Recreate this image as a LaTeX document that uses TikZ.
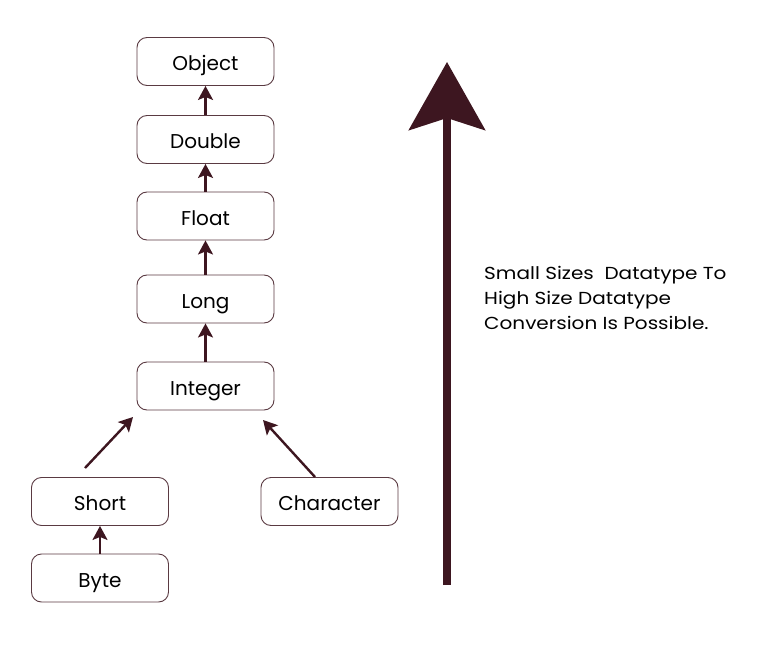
\documentclass[tikz,border=0pt]{standalone}
\usepackage{fontspec}
\setmainfont{Poppins}
\newfontfamily\notefont[FakeStretch=1.15]{Poppins}
\usetikzlibrary{arrows.meta}
\definecolor{maroon}{HTML}{3D1620}
\definecolor{boxline}{HTML}{5A3A42}
\begin{document}
\begin{tikzpicture}[x=1pt,y=-1pt,
  box/.style={draw=boxline, line width=0.9pt, rounded corners=10pt, minimum width=137pt, minimum height=48pt, inner sep=0pt, font=\fontsize{20}{22}\selectfont, text height=20pt, text depth=2pt, text=black},
  conn/.style={draw=maroon, line width=2.4pt, -{Stealth[length=14pt,width=15pt,inset=3pt]}},
  bigarrow/.style={draw=maroon, line width=8pt, -{Stealth[length=68pt,width=76pt,inset=12pt]}}]
\useasboundingbox (0,0) rectangle (768,650);
\node[box] (object) at (205.5,61.5) {Object};
\node[box] (double) at (205.5,139.5) {Double};
\node[box] (float) at (205.5,216) {Float};
\node[box] (long) at (205.5,299) {Long};
\node[box] (integer) at (205.5,386) {Integer};
\node[box] (short) at (100,501.5) {Short};
\node[box] (character) at (329.5,501.5) {Character};
\node[box] (byte) at (100,578) {Byte};
\draw[conn] (double.north) -- (object.south);
\draw[conn] (float.north) -- (double.south);
\draw[conn] (long.north) -- (float.south);
\draw[conn] (integer.north) -- (long.south);
\draw[conn] (byte.north) -- (short.south);
\coordinate (s0) at (85,468);
\coordinate (s1) at (133,417);
\draw[conn] (s0) -- (s1);
\coordinate (c0) at (315,477);
\coordinate (c1) at (263,420);
\draw[conn] (c0) -- (c1);
\coordinate (b0) at (447,585);
\coordinate (b1) at (447,62);
\draw[bigarrow] (b0) -- (b1);
\node[anchor=base west, align=left, inner sep=0pt, font=\notefont\fontsize{17.4}{25}\selectfont] (note) at (484,329) {Small Sizes\ \ Datatype To\\High Size Datatype\\Conversion Is Possible.};
\end{tikzpicture}
\end{document}
